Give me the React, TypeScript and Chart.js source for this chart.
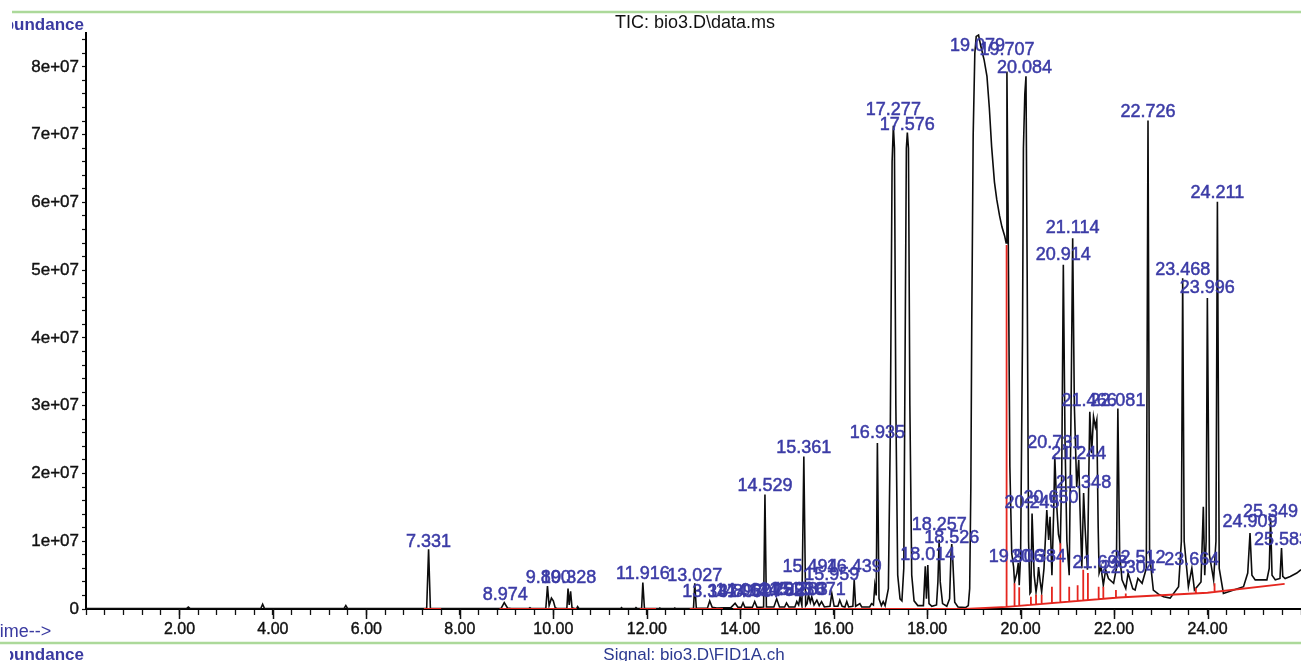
import React, { useEffect, useRef } from 'react';
import { Chart, registerables } from 'chart.js';

Chart.register(...registerables);

const M = 1e6;
const FONT = '"Liberation Sans", Arial, sans-serif';
const LABEL_BLUE = '#3b3ba6';

// Signal trace, [retention time (min), abundance (millions)]
const traceEarly: [number, number][] = [
  [0, 0.05], [2.15, 0.05], [2.19, 0.3], [2.23, 0.05],
  [3.74, 0.05], [3.78, 0.7], [3.82, 0.05],
  [5.52, 0.05], [5.56, 0.5], [5.6, 0.05],
  [7.29, 0.05], [7.331, 8.8], [7.37, 0.05],
  [8.88, 0.05], [8.95, 0.95], [9.02, 0.15], [9.1, 0.05],
  [9.47, 0.05], [9.5, 0.2], [9.53, 0.05],
  [9.84, 0.1], [9.875, 3.4], [9.91, 0.5], [9.96, 1.6], [10.0, 1.2], [10.04, 0.2], [10.1, 0.05],
  [10.29, 0.1], [10.315, 3.0], [10.34, 0.6], [10.37, 2.6], [10.4, 0.2], [10.47, 0.05],
  [10.5, 0.1], [10.52, 0.35], [10.55, 0.05],
  [11.44, 0.05], [11.46, 0.2], [11.48, 0.05],
  [11.75, 0.05], [11.77, 0.2], [11.8, 0.05],
  [11.89, 0.1], [11.916, 3.9], [11.95, 0.1], [12.0, 0.05],
  [12.26, 0.05], [12.28, 0.15], [12.3, 0.05],
  [12.58, 0.05], [12.6, 0.15], [12.62, 0.05],
  [13.0, 0.1], [13.027, 3.8], [13.06, 0.1],
  [13.3, 0.15], [13.347, 1.2], [13.4, 0.25], [13.5, 0.15],
];

const traceMiddle: [number, number][] = [
  [13.8, 0.2], [13.89, 0.85], [13.95, 0.25], [14.02, 0.25], [14.06, 0.9], [14.1, 0.25],
  [14.26, 0.25], [14.31, 1.1], [14.36, 0.25],
  [14.5, 0.3], [14.529, 16.9], [14.56, 0.3],
  [14.72, 0.3], [14.78, 1.5], [14.84, 0.3],
  [14.95, 0.3], [14.99, 0.9], [15.04, 0.3],
  [15.17, 0.3], [15.21, 1.1], [15.25, 0.6], [15.28, 1.8], [15.32, 0.5],
  [15.361, 22.5], [15.4, 0.5],
  [15.43, 0.8], [15.46, 2.1], [15.5, 1.0], [15.53, 1.8], [15.58, 0.6], [15.64, 1.3], [15.69, 0.5], [15.74, 1.1], [15.8, 0.3],
  [15.92, 0.4], [15.96, 2.3], [16.01, 0.4],
  [16.09, 0.4], [16.13, 1.3], [16.18, 0.4],
  [16.24, 0.3], [16.28, 1.1], [16.32, 0.3],
  [16.41, 0.4], [16.439, 4.3], [16.47, 0.4],
  [16.56, 0.8], [16.6, 0.3],
  [16.77, 0.3], [16.81, 0.8], [16.85, 0.6], [16.88, 3.5], [16.91, 2.0], [16.935, 24.5], [16.97, 1.5], [17.02, 0.5], [17.06, 1.1], [17.1, 0.5],
  [17.17, 3], [17.21, 25], [17.25, 66], [17.277, 71.3], [17.3, 68], [17.33, 30], [17.37, 5], [17.42, 1.5], [17.46, 1.2],
  [17.5, 6], [17.53, 40], [17.555, 68], [17.576, 70.3], [17.6, 68], [17.63, 30], [17.67, 5], [17.72, 1.2], [17.8, 0.5],
  [17.92, 0.5], [17.96, 6.3], [17.985, 1.5], [18.014, 6.5], [18.04, 0.8], [18.1, 0.4],
  [18.2, 0.6], [18.23, 4], [18.257, 10.2], [18.28, 4], [18.33, 0.8], [18.42, 0.4],
  [18.48, 1.5], [18.51, 8], [18.526, 9.6], [18.55, 7], [18.59, 1], [18.66, 0.3], [18.82, 0.2],
];

const traceMain: [number, number][] = [
  [18.88, 0.5], [18.91, 3], [18.935, 18], [18.955, 42.7], [18.985, 70], [19.02, 82], [19.05, 84.5], [19.1, 84.7],
  [19.15, 83], [19.22, 81], [19.28, 78.6], [19.33, 74], [19.38, 68.2], [19.44, 63], [19.49, 60.4], [19.55, 58],
  [19.6, 56.4], [19.66, 55], [19.69, 54],
  [19.707, 79.3], [19.73, 60], [19.77, 21], [19.81, 8.2], [19.85, 6.2], [19.87, 4], [19.92, 5.3], [19.95, 6.8], [19.97, 3.5],
  [20.0, 8], [20.04, 40], [20.06, 68], [20.09, 76], [20.115, 78.6], [20.14, 50], [20.17, 10], [20.2, 2.3],
  [20.22, 2.5], [20.245, 14.1], [20.29, 5], [20.33, 2.5], [20.36, 4], [20.384, 6.2], [20.42, 4], [20.45, 2.5],
  [20.5, 6], [20.56, 14.6], [20.6, 10.2], [20.63, 13.6], [20.67, 5], [20.71, 15], [20.731, 22.5], [20.77, 15.6],
  [20.81, 11], [20.85, 9.7], [20.88, 20], [20.914, 50.8], [20.95, 25], [20.99, 10], [21.04, 5], [21.08, 30],
  [21.114, 54.7], [21.15, 30], [21.2, 18], [21.244, 22], [21.27, 15], [21.31, 6], [21.348, 17.1], [21.38, 12],
  [21.43, 5.8], [21.46, 20], [21.48, 29.1], [21.52, 23], [21.56, 28.4], [21.6, 26.9], [21.63, 27.9], [21.66, 12],
  [21.68, 5.3], [21.72, 6.2], [21.77, 3.5], [21.82, 5.8], [21.88, 4.5], [21.99, 3.8], [22.05, 6], [22.081, 29.6],
  [22.12, 8], [22.17, 4.3], [22.25, 3.0], [22.3, 5.3], [22.4, 3.0], [22.45, 2.8], [22.51, 4.5], [22.6, 3.8],
  [22.69, 6], [22.726, 72.1], [22.76, 8], [22.84, 2.8],
];

const traceLate: [number, number][] = [
  [22.95, 2.2], [23.06, 1.8], [23.2, 1.6], [23.38, 3.3], [23.44, 10], [23.468, 48.8], [23.5, 10], [23.59, 3.3],
  [23.664, 6], [23.72, 2.8], [23.86, 4], [23.91, 15.1], [23.94, 5], [23.97, 10], [23.996, 45.9], [24.04, 8],
  [24.13, 4.3], [24.18, 10], [24.211, 60.1], [24.25, 6], [24.34, 2.3], [24.56, 2.8], [24.77, 3.3], [24.86, 5.3],
  [24.909, 11.2], [24.95, 5], [25.02, 4.3], [25.27, 4.3], [25.32, 6], [25.349, 13.4], [25.38, 5], [25.45, 4.3],
  [25.55, 4.5], [25.583, 9.0], [25.61, 4.8], [25.66, 4.5], [25.77, 4.8], [25.91, 5.3], [26.0, 5.8],
];

// Peak annotations: retention-time text and the abundance (millions) its baseline sits at
const peakLabels: string[] = [
  '7.331', '8.974', '9.890', '10.328', '11.916', '13.027', '13.347', '13.897', '14.062', '14.307',
  '14.782', '14.993', '15.210', '15.283', '15.671', '14.529', '15.361', '15.959', '15.494', '16.439',
  '16.935', '17.277', '17.576', '18.014', '18.257', '18.526', '19.079', '19.707', '20.084', '19.906',
  '20.384', '20.245', '20.650', '20.731', '20.914', '21.114', '21.244', '21.348', '21.466', '22.081',
  '21.698', '22.304', '22.512', '23.664', '22.726', '23.468', '23.996', '24.211', '24.909', '25.349',
  '25.583',
];
const peakLabelLevels: number[] = [
  9.2, 1.4, 3.9, 3.9, 4.4, 4.2, 1.8, 1.8, 1.9, 1.8,
  1.9, 2.0, 2.0, 2.1, 2.1, 17.4, 23.0, 4.3, 5.4, 5.4,
  25.2, 72.9, 70.7, 7.3, 11.6, 9.7, 82.3, 81.8, 79.1, 7.0,
  7.0, 14.9, 15.6, 23.7, 51.5, 55.5, 22.2, 17.9, 29.9, 29.9,
  6.0, 5.3, 6.8, 6.5, 72.6, 49.3, 46.6, 60.6, 12.1, 13.6,
  9.4,
];

// Integration marks (red): flat baselines, rising baseline, drop lines
const flatBaselines: [number, number][] = [
  [7.23, 7.6], [8.85, 10.5], [11.85, 12.2], [12.92, 13.63], [13.85, 18.8],
];
const risingBaseline: [number, number][] = [
  [18.8, 0], [19.7, 0.3], [22.1, 1.7], [24.0, 2.4], [25.65, 3.7],
];
const dropTimes: number[] = [
  19.7, 19.87, 19.97, 20.22, 20.33, 20.45, 20.67, 20.85, 21.04, 21.22, 21.34, 21.44, 21.67, 21.77, 22.04, 22.25, 23.75, 24.15,
];
const dropTops: number[] = [
  53.7, 3.8, 3.2, 1.8, 2.1, 2.1, 3.3, 9.7, 3.3, 3.5, 5.8, 5.3, 3.3, 3.3, 2.8, 2.3, 3.1, 3.8,
];

// Axis ticks
const xMajorTicks: number[] = [2, 4, 6, 8, 10, 12, 14, 16, 18, 20, 22, 24];
const xMinorStep = 0.4;
const yTickStepMillions = 2;
const yTickTopMillions = 84;

function baselineAt(t: number): number {
  for (let i = 0; i < risingBaseline.length - 1; i++) {
    const [t0, v0] = risingBaseline[i];
    const [t1, v1] = risingBaseline[i + 1];
    if (t >= t0 && t <= t1) return v0 + ((v1 - v0) * (t - t0)) / (t1 - t0);
  }
  return 0;
}

const peakLabelPlugin = {
  id: 'peakLabels',
  afterDatasetsDraw(chart: any) {
    const { ctx, scales } = chart;
    const x = scales.x;
    const y = scales.y;
    ctx.save();
    ctx.font = `18px ${FONT}`;
    ctx.fillStyle = LABEL_BLUE;
    ctx.strokeStyle = LABEL_BLUE;
    ctx.lineWidth = 0.5;
    ctx.textAlign = 'center';
    ctx.textBaseline = 'alphabetic';
    peakLabels.forEach((lab, i) => {
      const px = x.getPixelForValue(parseFloat(lab));
      const py = y.getPixelForValue(peakLabelLevels[i] * M);
      ctx.fillText(lab, px, py);
      ctx.strokeText(lab, px, py);
    });
    ctx.restore();
  },
};

const decorPlugin = {
  id: 'decor',
  afterDraw(chart: any) {
    const { ctx, scales, chartArea } = chart;
    const x = scales.x;
    ctx.save();
    // longer major ticks
    ctx.strokeStyle = '#111';
    ctx.lineWidth = 1.5;
    xMajorTicks.forEach((t) => {
      const px = Math.round(x.getPixelForValue(t)) + 0.5;
      ctx.beginPath();
      ctx.moveTo(px, chartArea.bottom);
      ctx.lineTo(px, chartArea.bottom + 10);
      ctx.stroke();
    });
    // green separator lines
    ctx.strokeStyle = '#acd99a';
    ctx.lineWidth = 2.5;
    ctx.beginPath();
    ctx.moveTo(12, 12);
    ctx.lineTo(1301, 12);
    ctx.moveTo(0, 643);
    ctx.lineTo(1301, 643);
    ctx.stroke();
    // title
    ctx.font = `18px ${FONT}`;
    ctx.fillStyle = '#111';
    ctx.textAlign = 'center';
    ctx.textBaseline = 'alphabetic';
    ctx.fillText('TIC: bio3.D\\data.ms', 695, 28);
    // signal caption
    ctx.font = `17px ${FONT}`;
    ctx.fillStyle = '#2b3990';
    ctx.fillText('Signal: bio3.D\\FID1A.ch', 694, 660);
    // axis captions (left edge clipped)
    ctx.fillStyle = '#3a3aa0';
    ctx.font = `bold 17px ${FONT}`;
    ctx.textAlign = 'right';
    ctx.save();
    ctx.beginPath();
    ctx.rect(12, 0, 100, 40);
    ctx.clip();
    ctx.fillText('Abundance', 84, 30);
    ctx.restore();
    ctx.save();
    ctx.beginPath();
    ctx.rect(10, 645, 100, 20);
    ctx.clip();
    ctx.fillText('Abundance', 84, 660);
    ctx.restore();
    ctx.font = `18px ${FONT}`;
    ctx.textAlign = 'left';
    ctx.fillText('Time-->', -10.5, 637);
    ctx.restore();
  },
};

export default function App() {
  const canvasRef = useRef<HTMLCanvasElement | null>(null);

  useEffect(() => {
    const canvas = canvasRef.current;
    if (!canvas) return;

    const trace = [...traceEarly, ...traceMiddle, ...traceMain, ...traceLate].map(([t, a]) => ({ x: t, y: a * M }));

    const red: { x: number; y: number | null }[] = [];
    flatBaselines.forEach(([t0, t1]) => {
      red.push({ x: t0, y: 0 }, { x: t1, y: 0 }, { x: t1, y: null });
    });
    risingBaseline.forEach(([t, a]) => red.push({ x: t, y: a * M }));
    red.push({ x: risingBaseline[risingBaseline.length - 1][0], y: null });
    dropTimes.forEach((t, i) => {
      red.push({ x: t, y: baselineAt(t) * M }, { x: t, y: dropTops[i] * M }, { x: t, y: null });
    });

    const chart = new Chart(canvas, {
      type: 'line',
      data: {
        datasets: [
          {
            data: red as any,
            borderColor: '#e5261f',
            borderWidth: 1.8,
            pointRadius: 0,
            spanGaps: false,
            order: 0,
          },
          {
            data: trace as any,
            borderColor: '#0c0c0c',
            borderWidth: 1.6,
            pointRadius: 0,
            order: 1,
          },
        ],
      },
      options: {
        animation: false,
        responsive: false,
        devicePixelRatio: 1,
        parsing: false as any,
        normalized: true,
        layout: { padding: { top: 33, right: 0, bottom: 0, left: 0 } },
        plugins: {
          legend: { display: false },
          tooltip: { enabled: false },
          title: { display: false },
        },
        elements: { line: { tension: 0 }, point: { radius: 0 } },
        scales: {
          x: {
            type: 'linear',
            min: 0,
            max: 26,
            ticks: {
              autoSkip: false,
              maxRotation: 0,
              color: '#111',
              textStrokeColor: '#111',
              textStrokeWidth: 0.4,
              padding: 0,
              font: { family: FONT, size: 16, lineHeight: 1.85 },
              callback: (value: any) => {
                const v = Number(value);
                const k = Math.round(v / 2);
                if (Math.abs(v - 2 * k) < 1e-6 && xMajorTicks.includes(2 * k)) return (2 * k).toFixed(2);
                return '';
              },
            },
            grid: { drawOnChartArea: false, drawTicks: true, tickLength: 6, tickColor: '#111', tickWidth: 1.3 },
            border: { display: true, color: '#000', width: 2 },
            afterBuildTicks: (s: any) => {
              const n = Math.round(26 / xMinorStep);
              s.ticks = Array.from({ length: n + 1 }, (_, i) => ({ value: Math.round(i * xMinorStep * 1000) / 1000 }));
            },
            afterFit: (s: any) => {
              s.height = 52;
            },
          },
          y: {
            type: 'linear',
            min: 0,
            max: 85 * M,
            ticks: {
              autoSkip: false,
              color: '#111',
              textStrokeColor: '#111',
              textStrokeWidth: 0.4,
              padding: 3,
              font: { family: FONT, size: 17 },
              callback: (value: any) => {
                const v = Number(value);
                const k = Math.round(v / (10 * M));
                if (Math.abs(v - k * 10 * M) < 1) return k === 0 ? '0' : `${k}e+07`;
                return '';
              },
            },
            grid: { drawOnChartArea: false, drawTicks: true, tickLength: 4, tickColor: '#111', tickWidth: 1.2 },
            border: { display: true, color: '#000', width: 2 },
            afterBuildTicks: (s: any) => {
              const n = Math.round(yTickTopMillions / yTickStepMillions);
              s.ticks = Array.from({ length: n + 1 }, (_, i) => ({ value: i * yTickStepMillions * M }));
            },
            afterFit: (s: any) => {
              s.width = 86;
            },
          },
        },
      },
      plugins: [peakLabelPlugin, decorPlugin],
    });

    return () => chart.destroy();
  }, []);

  return (
    <div style={{ position: 'fixed', left: 0, top: 0, width: 1301, height: 661, background: '#fff' }}>
      <canvas ref={canvasRef} width={1301} height={661} style={{ display: 'block', width: 1301, height: 661 }} />
    </div>
  );
}
